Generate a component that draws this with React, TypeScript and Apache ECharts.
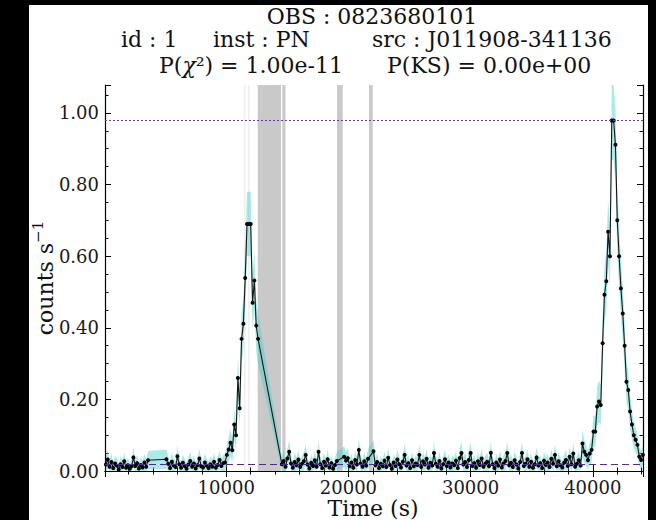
import React, { useEffect, useRef } from "react";
import * as echarts from "echarts";

// ---------- text ----------
const TITLE_OBS = "OBS : 0823680101";
const TITLE_ID = "id : 1";
const TITLE_INST = "inst : PN";
const TITLE_SRC = "src : J011908-341136";
const TITLE_CHI = "{a|P(}{b|χ}{a|²) = 1.00e-11}";
const TITLE_KS = "P(KS) = 0.00e+00";
const X_LABEL = "Time (s)";
const Y_LABEL = "{a|counts s}{s|−1}";

// ---------- axes ----------
const X_MIN = 80;
const X_MAX = 44110;
const Y_MIN = 0;
const Y_MAX = 1.078;

// ---------- light curve (150 s bins starting at T_START) ----------
const T_START = 80;
const BIN = 150;
const rates: (number | null)[] = [
  0.018, 0.032, 0.012, 0.025, 0.008, 0.021, 0.015, 0.004, 0.019, 0.011,
  0.027, 0.009, 0.016, 0.006, 0.013, 0.038, 0.014, 0.022, 0.007, 0.017,
  0.010, 0.024, 0.012, 0.030, null, null, null, null, null, null,
  null, null, null, 0.033, 0.020, 0.008, 0.026, 0.015, 0.011, 0.041,
  0.019, 0.009, 0.023, 0.014, 0.006, 0.018, 0.028, 0.012, 0.021, 0.007,
  0.016, 0.035, 0.013, 0.010, 0.024, 0.015, 0.008, 0.019, 0.012, 0.026,
  0.009, 0.017, 0.031, 0.014, 0.022, 0.024, 0.045, 0.060, 0.079, 0.058,
  0.130, 0.100, 0.260, 0.175, 0.369, 0.411, 0.539, 0.690, 0.690, 0.690,
  0.470, 0.532, 0.406, 0.369, null, null, null, null, null, null,
  null, null, null, null, null, null, 0.019, 0.028, 0.012, 0.035,
  0.054, 0.021, 0.009, 0.025, 0.016, 0.032, 0.011, 0.020, 0.027, 0.045,
  0.018, 0.007, 0.023, 0.014, 0.030, 0.012, 0.054, 0.019, 0.008, 0.026,
  0.015, 0.033, 0.010, 0.022, 0.006, 0.017, 0.028, null, null, null,
  0.040, 0.029, 0.036, 0.013, 0.024, 0.009, 0.031, 0.018, 0.059, 0.021,
  0.012, 0.027, 0.015, 0.034, null, null, 0.055, 0.016, 0.025, 0.008,
  0.020, 0.013, 0.029, 0.011, 0.037, 0.017, 0.006, 0.024, 0.014, 0.032,
  0.019, 0.010, 0.026, 0.045, 0.015, 0.022, 0.008, 0.030, 0.013, 0.021,
  0.017, 0.045, 0.011, 0.027, 0.018, 0.034, 0.009, 0.023, 0.015, 0.050,
  0.020, 0.012, 0.028, 0.007, 0.019, 0.033, 0.014, 0.024, 0.010, 0.021,
  0.016, 0.029, 0.008, 0.036, 0.050, 0.018, 0.025, 0.011, 0.031, 0.050,
  0.014, 0.022, 0.009, 0.027, 0.017, 0.035, 0.012, 0.020, 0.026, 0.013,
  0.051, 0.019, 0.008, 0.024, 0.015, 0.032, 0.010, 0.021, 0.028, 0.050,
  0.016, 0.023, 0.011, 0.030, 0.018, 0.007, 0.025, 0.050, 0.014, 0.020,
  0.033, 0.012, 0.026, 0.009, 0.019, 0.038, 0.015, 0.022, 0.008, 0.029,
  0.017, 0.024, 0.011, 0.034, 0.020, 0.045, 0.013, 0.027, 0.016, 0.010,
  0.023, 0.031, 0.014, 0.040, 0.019, 0.049, 0.012, 0.020, 0.030, 0.015,
  0.077, 0.054, 0.045, 0.030, 0.049, 0.059, 0.110, 0.110, 0.180, 0.194,
  0.184, 0.357, 0.492, 0.530, 0.668, 0.600, 0.979, 0.979, 0.911, 0.700,
  0.600, 0.510, 0.440, 0.350, 0.249, 0.226, 0.166, 0.130, 0.100, 0.087,
  0.073, 0.040, 0.031, 0.045,
];
const errors: (number | null)[] = [
  0.022, 0.027, 0.019, 0.024, 0.017, 0.023, 0.020, 0.015, 0.022, 0.018,
  0.025, 0.017, 0.021, 0.016, 0.019, 0.029, 0.020, 0.023, 0.016, 0.021,
  0.018, 0.024, 0.019, 0.026, null, null, null, null, null, null,
  null, null, null, 0.027, 0.022, 0.017, 0.025, 0.020, 0.018, 0.030,
  0.022, 0.017, 0.024, 0.020, 0.016, 0.022, 0.026, 0.019, 0.023, 0.016,
  0.021, 0.028, 0.019, 0.018, 0.024, 0.020, 0.017, 0.022, 0.019, 0.025,
  0.017, 0.021, 0.027, 0.020, 0.023, 0.024, 0.030, 0.034, 0.038, 0.034,
  0.045, 0.040, 0.060, 0.052, 0.070, 0.073, 0.082, 0.090, 0.090, 0.090,
  0.076, 0.080, 0.072, 0.069, null, null, null, null, null, null,
  null, null, null, null, null, null, 0.022, 0.026, 0.019, 0.028,
  0.032, 0.023, 0.017, 0.025, 0.021, 0.027, 0.018, 0.022, 0.026, 0.030,
  0.021, 0.016, 0.024, 0.020, 0.026, 0.019, 0.032, 0.022, 0.017, 0.025,
  0.020, 0.027, 0.018, 0.023, 0.016, 0.021, 0.026, null, null, null,
  0.029, 0.026, 0.028, 0.019, 0.024, 0.017, 0.026, 0.021, 0.033, 0.023,
  0.019, 0.025, 0.020, 0.027, null, null, 0.032, 0.021, 0.024, 0.017,
  0.022, 0.019, 0.026, 0.018, 0.028, 0.021, 0.016, 0.024, 0.020, 0.027,
  0.022, 0.018, 0.025, 0.030, 0.020, 0.023, 0.017, 0.026, 0.019, 0.023,
  0.021, 0.030, 0.018, 0.025, 0.021, 0.027, 0.017, 0.024, 0.020, 0.031,
  0.022, 0.019, 0.026, 0.016, 0.022, 0.027, 0.020, 0.024, 0.018, 0.023,
  0.021, 0.026, 0.017, 0.028, 0.031, 0.021, 0.025, 0.018, 0.027, 0.031,
  0.020, 0.023, 0.017, 0.025, 0.021, 0.028, 0.019, 0.022, 0.025, 0.019,
  0.031, 0.022, 0.017, 0.024, 0.020, 0.027, 0.018, 0.023, 0.026, 0.031,
  0.021, 0.024, 0.018, 0.026, 0.022, 0.016, 0.025, 0.031, 0.020, 0.022,
  0.027, 0.019, 0.025, 0.017, 0.022, 0.029, 0.020, 0.023, 0.017, 0.026,
  0.021, 0.024, 0.018, 0.027, 0.022, 0.030, 0.019, 0.025, 0.021, 0.018,
  0.024, 0.027, 0.020, 0.029, 0.022, 0.031, 0.019, 0.022, 0.026, 0.020,
  0.038, 0.032, 0.030, 0.026, 0.031, 0.034, 0.044, 0.044, 0.055, 0.058,
  0.056, 0.072, 0.080, 0.083, 0.090, 0.086, 0.110, 0.110, 0.104, 0.092,
  0.086, 0.080, 0.075, 0.068, 0.058, 0.055, 0.047, 0.042, 0.037, 0.035,
  0.032, 0.026, 0.024, 0.028,
];

// bad time intervals (s)
const badIntervals: [number, number][] = [
  [12578, 14484],
  [14591, 14853],
  [19067, 19534],
  [21686, 21989],
];
const shortIntervals: [number, number][] = [
  [11500, 11560],
  [11830, 11890],
];

const MAX_RATE = 0.979;
const MEAN_RATE = 0.019;

const SERIF = "'DejaVu Serif', serif";

export default function App() {
  const ref = useRef<HTMLDivElement>(null);

  useEffect(() => {
    document.body.style.margin = "0";
    if (!ref.current) return;
    const chart = echarts.init(ref.current, undefined, { renderer: "svg" });

    const points = rates.map((r, i) => [T_START + (i + 0.5) * BIN, r == null ? "-" : r]);

    const tickLabel = { fontFamily: SERIF, fontSize: 18, color: "#1a1a1a" };

    const axisCommonX = {
      type: "value" as const,
      min: X_MIN,
      max: X_MAX,
      splitLine: { show: false },
      axisLine: { show: true, lineStyle: { color: "#000", width: 1.2 } },
      axisTick: { show: true, inside: true, length: 6, lineStyle: { color: "#000", width: 1 } },
      minorTick: { show: true, splitNumber: 5, length: 3.5, lineStyle: { color: "#000", width: 1 } },
    };
    const axisCommonY = {
      type: "value" as const,
      min: Y_MIN,
      max: Y_MAX,
      interval: 0.2,
      splitLine: { show: false },
      axisLine: { show: true, lineStyle: { color: "#000", width: 1.2 } },
      axisTick: { show: true, inside: true, length: 6, lineStyle: { color: "#000", width: 1 } },
      minorTick: { show: true, splitNumber: 4, length: 3.5, lineStyle: { color: "#000", width: 1 } },
    };

    const option: any = {
      animation: false,
      backgroundColor: "#fff",
      grid: { left: 76, top: 80, right: 5, bottom: 49, outerBoundsMode: "none" },
      xAxis: [
        {
          ...axisCommonX,
          position: "bottom",
          axisLabel: {
            ...tickLabel,
            margin: 7,
            showMinLabel: false,
            showMaxLabel: false,
            formatter: (v: number) => String(Math.round(v)),
          },
        },
        {
          ...axisCommonX,
          position: "top",
          axisLabel: { show: false },
        },
      ],
      yAxis: [
        {
          ...axisCommonY,
          position: "left",
          axisLabel: {
            ...tickLabel,
            margin: 6,
            showMinLabel: true,
            showMaxLabel: false,
            formatter: (v: number) => v.toFixed(2),
          },
        },
        {
          ...axisCommonY,
          position: "right",
          axisLabel: { show: false },
        },
      ],
      series: [
        {
          type: "line",
          data: [],
          z: 1,
          silent: true,
          markArea: {
            silent: true,
            data: [
              ...badIntervals.map(([a, b]) => [
                { xAxis: a, itemStyle: { color: "#c9c9c9" } },
                { xAxis: b },
              ]),
              ...shortIntervals.map(([a, b]) => [
                { xAxis: a, itemStyle: { color: "#dcdcdc" } },
                { xAxis: b },
              ]),
            ],
          },
        },
        {
          type: "custom",
          z: 2,
          silent: true,
          clip: true,
          data: [[X_MIN, 0]],
          renderItem: (_p: any, api: any) => {
            const upper: number[][] = [];
            const lower: number[][] = [];
            rates.forEach((r, i) => {
              const e = errors[i];
              if (r == null || e == null) return;
              const t = T_START + (i + 0.5) * BIN;
              upper.push(api.coord([t, Math.min(r + e, Y_MAX)]));
              lower.push(api.coord([t, Math.max(r - e, Y_MIN)]));
            });
            return {
              type: "polygon",
              shape: { points: upper.concat(lower.reverse()) },
              style: { fill: "rgba(72,209,204,0.45)", stroke: "none" },
            };
          },
        },
        {
          type: "line",
          data: [],
          z: 3,
          silent: true,
          markLine: {
            silent: true,
            symbol: ["none", "none"],
            label: { show: false },
            data: [
              { yAxis: MAX_RATE, lineStyle: { type: [2, 2], color: "#6e3a9e", width: 1.1 } },
              { yAxis: MEAN_RATE, lineStyle: { type: [7, 4], color: "#4f2c8f", width: 1.2 } },
            ],
          },
        },
        {
          type: "line",
          data: points,
          z: 4,
          silent: true,
          connectNulls: true,
          showSymbol: true,
          showAllSymbol: true,
          symbol: "circle",
          symbolSize: 4,
          lineStyle: { color: "#151515", width: 1.1 },
          itemStyle: { color: "#000" },
        },
      ],
      graphic: [
        {
          type: "text",
          x: 343,
          y: 11,
          style: { text: TITLE_OBS, fontFamily: SERIF, fontSize: 22, fill: "#111", align: "center", verticalAlign: "middle" },
        },
        {
          type: "text",
          x: 92,
          y: 34,
          style: { text: TITLE_ID, fontFamily: SERIF, fontSize: 22, fill: "#111", align: "left", verticalAlign: "middle" },
        },
        {
          type: "text",
          x: 184,
          y: 34,
          style: { text: TITLE_INST, fontFamily: SERIF, fontSize: 22, fill: "#111", align: "left", verticalAlign: "middle" },
        },
        {
          type: "text",
          x: 343,
          y: 34,
          style: { text: TITLE_SRC, fontFamily: SERIF, fontSize: 22, fill: "#111", align: "left", verticalAlign: "middle" },
        },
        {
          type: "text",
          x: 130,
          y: 60,
          style: {
            text: TITLE_CHI,
            align: "left",
            verticalAlign: "middle",
            rich: {
              a: { fontFamily: SERIF, fontSize: 22, fill: "#111" },
              b: { fontFamily: SERIF, fontSize: 22, fill: "#111", fontStyle: "italic" },
            },
          },
        },
        {
          type: "text",
          x: 358,
          y: 60,
          style: { text: TITLE_KS, fontFamily: SERIF, fontSize: 22, fill: "#111", align: "left", verticalAlign: "middle" },
        },
        {
          type: "text",
          x: 344,
          y: 503,
          style: { text: X_LABEL, fontFamily: SERIF, fontSize: 22, fill: "#111", align: "center", verticalAlign: "middle" },
        },
        {
          type: "text",
          x: 14,
          y: 273,
          rotation: Math.PI / 2,
          style: {
            text: Y_LABEL,
            align: "center",
            verticalAlign: "middle",
            rich: {
              a: { fontFamily: SERIF, fontSize: 22, fill: "#111", lineHeight: 26, verticalAlign: "bottom" },
              s: { fontFamily: SERIF, fontSize: 15, fill: "#111", lineHeight: 15, verticalAlign: "top" },
            },
          },
        },
      ],
    };

    chart.setOption(option);
    return () => chart.dispose();
  }, []);

  return (
    <div style={{ position: "relative", width: 656, height: 520, background: "#000", overflow: "hidden" }}>
      <div
        ref={ref}
        style={{ position: "absolute", left: 29, top: 5, width: 619, height: 515, background: "#fff" }}
      />
    </div>
  );
}
